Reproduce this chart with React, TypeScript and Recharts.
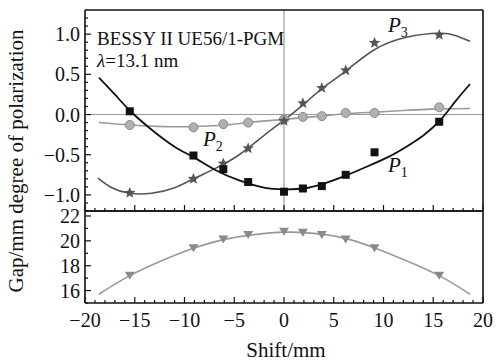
import React from 'react';
import {
  ComposedChart, Line, Scatter, XAxis, YAxis, ReferenceLine,
} from 'recharts';

// measured shifts (mm) shared by all series
const shifts = [-15.5, -9.1, -6.1, -3.6, 0, 1.9, 3.8, 6.2, 9.1, 15.6];
const p1Measured = [0.04, -0.51, -0.68, -0.84, -0.96, -0.92, -0.89, -0.75, -0.47, -0.09];
const p2Measured = [-0.13, -0.16, -0.12, -0.1, -0.06, -0.03, -0.02, 0.02, 0.02, 0.09];
const p3Measured = [-0.975, -0.8, -0.61, -0.42, -0.08, 0.14, 0.33, 0.55, 0.89, 0.99];
const gapMeasured = [17.2, 19.4, 20.1, 20.46, 20.73, 20.65, 20.46, 20.1, 19.4, 17.2];

// fitted curves
const p1FitX = [-18.6, -17, -15.5, -13.3, -11, -9.1, -6.9, -4.5, -2, 0, 2, 4, 6.2, 8.3, 10.6, 12.3, 14, 15.7, 17.2, 18.7];
const p1FitY = [0.46, 0.25, 0.05, -0.19, -0.4, -0.53, -0.69, -0.82, -0.91, -0.93, -0.92, -0.86, -0.76, -0.65, -0.52, -0.4, -0.26, -0.07, 0.16, 0.38];
const p2FitX = [-18.6, -15.5, -12, -9.2, -6, -3.6, 0, 3.7, 6.2, 9.2, 12, 15.6, 18.7];
const p2FitY = [-0.1, -0.13, -0.15, -0.15, -0.13, -0.1, -0.06, -0.02, 0.01, 0.03, 0.05, 0.07, 0.075];
const p3FitX = [-18.7, -17.3, -15.5, -13.3, -11, -9.1, -6.9, -4.5, -2, 0, 2, 4, 6.2, 9, 12.3, 15.6, 17.3, 18.7];
const p3FitY = [-0.79, -0.91, -0.98, -0.98, -0.91, -0.8, -0.67, -0.5, -0.26, -0.07, 0.13, 0.34, 0.54, 0.8, 0.96, 1.01, 0.98, 0.91];
const gapFitX = [-18.6, -15.5, -12, -9.1, -6.1, -3, 0, 3, 6.2, 9.2, 12, 15.6, 18.7];
const gapFitY = [15.7, 17.2, 18.5, 19.4, 20.1, 20.5, 20.7, 20.6, 20.2, 19.4, 18.5, 17.2, 15.7];

// tick labels
const xMajor = [-20, -15, -10, -5, 0, 5, 10, 15, 20];
const xLabels = ['\u221220', '\u221215', '\u221210', '\u22125', '0', '5', '10', '15', '20'];
const polMajor = [-1, -0.5, 0, 0.5, 1];
const polLabels = ['\u22121.0', '\u22120.5', '0.0', '0.5', '1.0'];
const gapMajor = [16, 18, 20, 22];
const gapLabels = ['16', '18', '20', '22'];

const FONT = "'Liberation Serif', 'DejaVu Serif', 'Times New Roman', serif";
const fontStyle = { fontFamily: FONT };

const range = (a: number, b: number, step: number) => {
  const out: number[] = [];
  const n = Math.round((b - a) / step);
  for (let i = 0; i <= n; i++) out.push(Math.round((a + i * step) * 1000) / 1000);
  return out;
};
const xTicks = range(-20, 20, 1);
const polTicks = range(-1.2, 1.2, 0.1);
const gapTicks = range(15, 22, 1);

const pts = (xs: number[], ys: number[]) => xs.map((x, i) => ({ x, y: ys[i] }));

type Side = 'left' | 'right' | 'top' | 'bottom';

const makeTick = (side: Side, majors: number[], labels: string[] | null) => (props: any) => {
  const { x, y, payload } = props;
  const v = payload.value;
  const idx = majors.findIndex((m) => Math.abs(m - v) < 1e-6);
  const len = idx >= 0 ? 6 : 3;
  let line;
  if (side === 'left') line = <line x1={x} x2={x + len} y1={y} y2={y} />;
  else if (side === 'right') line = <line x1={x} x2={x - len} y1={y} y2={y} />;
  else if (side === 'bottom') line = <line x1={x} x2={x} y1={y} y2={y - len} />;
  else line = <line x1={x} x2={x} y1={y} y2={y + len} />;
  let label = null;
  if (labels && idx >= 0) {
    if (side === 'left') {
      label = (
        <text x={x - 5} y={y + 7} textAnchor="end" fontSize={20} style={fontStyle} fill="#111" stroke="none">
          {labels[idx]}
        </text>
      );
    } else if (side === 'bottom') {
      label = (
        <text x={x} y={y + 24} textAnchor="middle" fontSize={20} style={fontStyle} fill="#111" stroke="none">
          {labels[idx]}
        </text>
      );
    }
  }
  return (
    <g stroke="#111" strokeWidth={1.2}>
      {line}
      {label}
    </g>
  );
};

const Square = (p: any) => <rect x={p.cx - 4} y={p.cy - 4} width={8} height={8} fill="#111" />;
const Dot = (p: any) => <circle cx={p.cx} cy={p.cy} r={4.5} fill="#b0b0b0" stroke="#8a8a8a" strokeWidth={1} />;
const Star = (p: any) => {
  const outer = 6;
  const inner = 2.6;
  const d: string[] = [];
  for (let i = 0; i < 10; i++) {
    const r = i % 2 === 0 ? outer : inner;
    const a = -Math.PI / 2 + (i * Math.PI) / 5;
    d.push(`${i === 0 ? 'M' : 'L'}${p.cx + r * Math.cos(a)},${p.cy + r * Math.sin(a)}`);
  }
  return <path d={d.join(' ') + 'Z'} fill="#555" />;
};
const DownTriangle = (p: any) => (
  <path d={`M${p.cx - 5},${p.cy - 4} L${p.cx + 5},${p.cy - 4} L${p.cx},${p.cy + 4}Z`} fill="#8a8a8a" />
);

const axisLine = { stroke: '#111', strokeWidth: 1.6 };

const App: React.FC = () => {
  return (
    <div style={{ position: 'absolute', left: 0, top: 0, width: 497, height: 364, background: '#fff', fontFamily: FONT }}>
      <div style={{ position: 'absolute', left: 0, top: 0 }}>
        <ComposedChart width={497} height={213} margin={{ top: 6, right: 10, bottom: 0, left: 45 }}>
          <XAxis xAxisId={0} dataKey="x" type="number" domain={[-20, 20]} ticks={xTicks} interval={0}
            orientation="bottom" height={2} tickSize={0} tickMargin={0} axisLine={axisLine} tick={makeTick('bottom', xMajor, null)} />
          <XAxis xAxisId="top" dataKey="x" type="number" domain={[-20, 20]} ticks={xTicks} interval={0}
            orientation="top" height={4} tickSize={0} tickMargin={0} axisLine={axisLine} tick={makeTick('top', xMajor, null)} />
          <YAxis yAxisId={0} dataKey="y" type="number" domain={[-1.2, 1.3]} ticks={polTicks} interval={0}
            width={40} tickSize={0} tickMargin={0} axisLine={axisLine} tick={makeTick('left', polMajor, polLabels)} />
          <YAxis yAxisId="right" dataKey="y" type="number" domain={[-1.2, 1.3]} ticks={polTicks} interval={0}
            orientation="right" width={4} tickSize={0} tickMargin={0} axisLine={axisLine} tick={makeTick('right', polMajor, null)} />
          <ReferenceLine x={0} stroke="#9a9a9a" strokeWidth={1.2} />
          <ReferenceLine y={0} stroke="#9a9a9a" strokeWidth={1.2} />
          <Line data={pts(p2FitX, p2FitY)} dataKey="y" type="natural" stroke="#999" strokeWidth={1.6} dot={false} isAnimationActive={false} />
          <Line data={pts(p3FitX, p3FitY)} dataKey="y" type="natural" stroke="#555" strokeWidth={1.6} dot={false} isAnimationActive={false} />
          <Line data={pts(p1FitX, p1FitY)} dataKey="y" type="natural" stroke="#111" strokeWidth={1.8} dot={false} isAnimationActive={false} />
          <Scatter data={pts(shifts, p2Measured)} shape={Dot} isAnimationActive={false} />
          <Scatter data={pts(shifts, p3Measured)} shape={Star} isAnimationActive={false} />
          <Scatter data={pts(shifts, p1Measured)} shape={Square} isAnimationActive={false} />
        </ComposedChart>
      </div>
      <div style={{ position: 'absolute', left: 0, top: 200 }}>
        <ComposedChart width={497} height={164} margin={{ top: 7, right: 10, bottom: 31, left: 45 }}>
          <XAxis xAxisId={0} dataKey="x" type="number" domain={[-20, 20]} ticks={xTicks} interval={0}
            orientation="bottom" height={30} tickSize={0} tickMargin={0} axisLine={axisLine} tick={makeTick('bottom', xMajor, xLabels)} />
          <XAxis xAxisId="top" dataKey="x" type="number" domain={[-20, 20]} ticks={xTicks} interval={0}
            orientation="top" height={4} tickSize={0} tickMargin={0} axisLine={axisLine} tick={makeTick('top', xMajor, null)} />
          <YAxis yAxisId={0} dataKey="y" type="number" domain={[15, 22.4]} ticks={gapTicks} interval={0}
            width={40} tickSize={0} tickMargin={0} axisLine={axisLine} tick={makeTick('left', gapMajor, gapLabels)} />
          <YAxis yAxisId="right" dataKey="y" type="number" domain={[15, 22.4]} ticks={gapTicks} interval={0}
            orientation="right" width={4} tickSize={0} tickMargin={0} axisLine={axisLine} tick={makeTick('right', gapMajor, null)} />
          <Line data={pts(gapFitX, gapFitY)} dataKey="y" type="natural" stroke="#999" strokeWidth={1.6} dot={false} isAnimationActive={false} />
          <Scatter data={pts(shifts, gapMeasured)} shape={DownTriangle} isAnimationActive={false} />
        </ComposedChart>
      </div>
      <svg width={497} height={364} style={{ position: 'absolute', left: 0, top: 0, pointerEvents: 'none', fontFamily: FONT }}>
        <g fill="#111">
          <text x={97} y={45} fontSize={19} style={fontStyle}>BESSY II UE56/1-PGM</text>
          <text x={97} y={67} fontSize={19} style={fontStyle}>
            <tspan fontStyle="italic">{'\u03bb'}</tspan>=13.1 nm
          </text>
          <text x={388} y={32} fontSize={21} fontStyle="italic" style={fontStyle}>
            P<tspan fontStyle="normal" fontSize={14} dy={5}>3</tspan>
          </text>
          <text x={203} y={146} fontSize={21} fontStyle="italic" style={fontStyle}>
            P<tspan fontStyle="normal" fontSize={14} dy={5}>2</tspan>
          </text>
          <text x={388} y={172} fontSize={21} fontStyle="italic" style={fontStyle}>
            P<tspan fontStyle="normal" fontSize={14} dy={5}>1</tspan>
          </text>
          <text x={286} y={357} fontSize={21} textAnchor="middle" style={fontStyle}>Shift/mm</text>
          <text x={23} y={161} fontSize={21} textAnchor="middle" transform="rotate(-90 23 161)" style={fontStyle}>
            Gap/mm degree of polarization
          </text>
        </g>
      </svg>
    </div>
  );
};

export default App;
